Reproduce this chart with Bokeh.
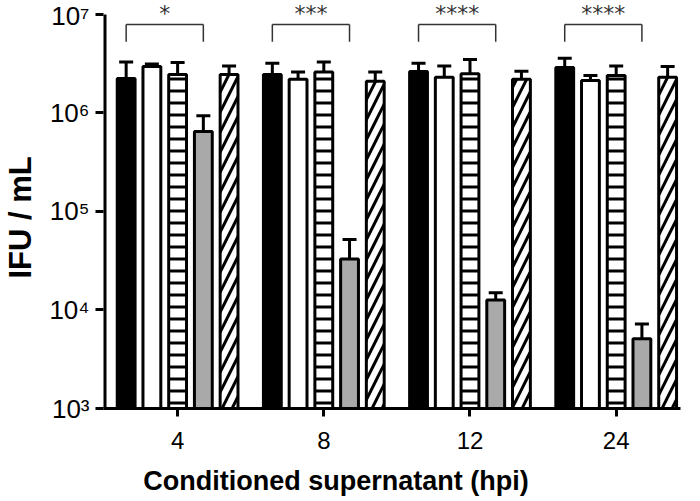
from bokeh.plotting import figure
from bokeh.models import (ColumnDataSource, FixedTicker, Whisker, TeeHead,
                          LabelSet, Range1d, LinearAxis, LogAxis)
from bokeh.embed import file_html
from bokeh.resources import INLINE
from bokeh.core.properties import value

# ---------------- data ----------------
groups = ["4", "8", "12", "24"]
series_names = ["black", "white", "striped", "gray", "hatched"]

black_mean   = [2.24e6, 2.46e6, 2.63e6, 2.90e6]
black_err    = [3.30e6, 3.20e6, 3.20e6, 3.60e6]
white_mean   = [2.96e6, 2.20e6, 2.30e6, 2.14e6]
white_err    = [3.15e6, 2.60e6, 3.00e6, 2.40e6]
striped_mean = [2.46e6, 2.60e6, 2.50e6, 2.40e6]
striped_err  = [3.25e6, 3.30e6, 3.50e6, 3.00e6]
gray_mean    = [6.5e5, 3.3e4, 1.26e4, 5.1e3]
gray_err     = [9.4e5, 5.2e4, 1.5e4, 7.2e3]
hatched_mean = [2.46e6, 2.10e6, 2.20e6, 2.30e6]
hatched_err  = [3.00e6, 2.60e6, 2.65e6, 2.96e6]

significance = ["*", "***", "****", "****"]

y_ticks = [1e3, 1e4, 1e5, 1e6, 1e7]
y_tick_labels = ["10\u00b3", "10\u2074", "10\u2075", "10\u2076", "10\u2077"]

x_title = "Conditioned supernatant (hpi)"
y_title = "IFU / mL"

# ---------------- layout / style ----------------
pitch = 0.176
bar_w = 0.122
offsets = [-2, -1, 0, 1, 2]
styles = [
    dict(fill_color="black", hatch_pattern=None, scale=None),
    dict(fill_color="white", hatch_pattern=None, scale=None),
    dict(fill_color="white", hatch_pattern="horizontal_line", scale=12),
    dict(fill_color="#a9a9a9", hatch_pattern=None, scale=None),
    dict(fill_color="white", hatch_pattern="right_diagonal_line", scale=20),
]
means = [black_mean, white_mean, striped_mean, gray_mean, hatched_mean]
errs = [black_err, white_err, striped_err, gray_err, hatched_err]

x_start, x_end = -0.507, 3.44
y_start, y_end = 1e3, 10 ** 7.142
x_title_pos = 1.084   # horizontal centre of the x-axis title (data units)
y_title_pos = 8.7e4   # vertical centre of the y-axis title (data units)

p = figure(width=690, height=498, y_axis_type="log",
           x_range=Range1d(x_start, x_end), y_range=Range1d(y_start, y_end),
           output_backend="svg", toolbar_location=None,
           min_border_left=97, min_border_right=10,
           min_border_top=0, min_border_bottom=89)
p.outline_line_color = None
p.xgrid.visible = False
p.ygrid.visible = False
p.background_fill_color = "white"

# left axis line only from 10^3 to 10^7
p.segment(x0=[x_start], x1=[x_start], y0=[y_ticks[0]], y1=[y_ticks[-1]],
          line_color="black", line_width=6)

xs_idx = list(range(len(groups)))
for k in range(5):
    xs = [i + offsets[k] * pitch for i in xs_idx]
    src = ColumnDataSource(dict(x=xs, top=means[k], err=errs[k],
                                bottom=[y_ticks[0]] * len(xs)))
    st = styles[k]
    kw = dict(x="x", top="top", bottom="bottom", width=bar_w, source=src,
              fill_color=st["fill_color"], line_color="black", line_width=3)
    if st["hatch_pattern"]:
        kw.update(hatch_pattern=st["hatch_pattern"], hatch_color="black",
                  hatch_weight=3, hatch_scale=st["scale"])
    p.vbar(**kw)
    w = Whisker(base="x", lower="top", upper="err", source=src,
                dimension="height", line_color="black", line_width=3,
                upper_head=TeeHead(size=14, line_width=3, line_color="black"),
                lower_head=None)
    p.add_layout(w)

# significance brackets
br_top = 7.9e6
br_bot = 5.3e6
star_y = 8.6e6
lefts = [i + offsets[0] * pitch for i in xs_idx]
rights = [i + offsets[3] * pitch for i in xs_idx]
p.segment(x0=lefts, x1=rights, y0=[br_top] * 4, y1=[br_top] * 4,
          line_color="#333333", line_width=1.5)
p.segment(x0=lefts, x1=lefts, y0=[br_bot] * 4, y1=[br_top] * 4,
          line_color="#333333", line_width=1.5)
p.segment(x0=rights, x1=rights, y0=[br_bot] * 4, y1=[br_top] * 4,
          line_color="#333333", line_width=1.5)
star_src = ColumnDataSource(dict(x=[(a + b) / 2 for a, b in zip(lefts, rights)],
                                 y=[star_y] * 4, t=significance))
p.add_layout(LabelSet(x="x", y="y", text="t", source=star_src,
                      text_align="center", text_baseline="alphabetic",
                      text_font=value("DejaVu Sans"),
                      text_font_size="22px", text_color="#333333"))

# axes
xax = p.xaxis[0]
yax = p.yaxis[0]
for ax in (xax, yax):
    ax.axis_line_width = 3
    ax.axis_line_color = "black"
    ax.major_tick_line_width = 3
    ax.major_tick_line_color = "black"
    ax.major_tick_out = 8
    ax.major_tick_in = 0
    ax.minor_tick_line_color = None
    ax.major_label_text_font = "Liberation Sans"
    ax.major_label_text_color = "black"
yax.axis_line_color = None

xax.ticker = FixedTicker(ticks=xs_idx)
xax.major_label_overrides = {i: g for i, g in zip(xs_idx, groups)}
xax.major_label_text_font_size = "24px"
xax.major_label_standoff = 15

yax.ticker = FixedTicker(ticks=y_ticks)
yax.major_label_overrides = {int(t): l for t, l in zip(y_ticks, y_tick_labels)}
yax.major_label_text_font_size = "26px"
yax.major_label_standoff = 6

# axis titles drawn as the single label of bare extra axes
x_title_axis = LinearAxis(ticker=FixedTicker(ticks=[x_title_pos]),
                          major_label_overrides={x_title_pos: x_title},
                          axis_line_color=None, major_tick_line_color=None,
                          minor_tick_line_color=None, major_tick_out=0,
                          major_tick_in=0, major_label_standoff=14,
                          major_label_text_font="Liberation Sans",
                          major_label_text_font_style="bold",
                          major_label_text_font_size="27px",
                          major_label_text_color="black")
p.add_layout(x_title_axis, "below")

y_title_axis = LogAxis(ticker=FixedTicker(ticks=[y_title_pos]),
                       major_label_overrides={y_title_pos: y_title},
                       major_label_orientation="parallel",
                       axis_line_color=None, major_tick_line_color=None,
                       minor_tick_line_color=None, major_tick_out=0,
                       major_tick_in=0, major_label_standoff=8,
                       major_label_text_font="Liberation Sans",
                       major_label_text_font_style="bold",
                       major_label_text_font_size="31px",
                       major_label_text_color="black")
p.add_layout(y_title_axis, "left")

open("out.html", "w").write(file_html(p, INLINE))
